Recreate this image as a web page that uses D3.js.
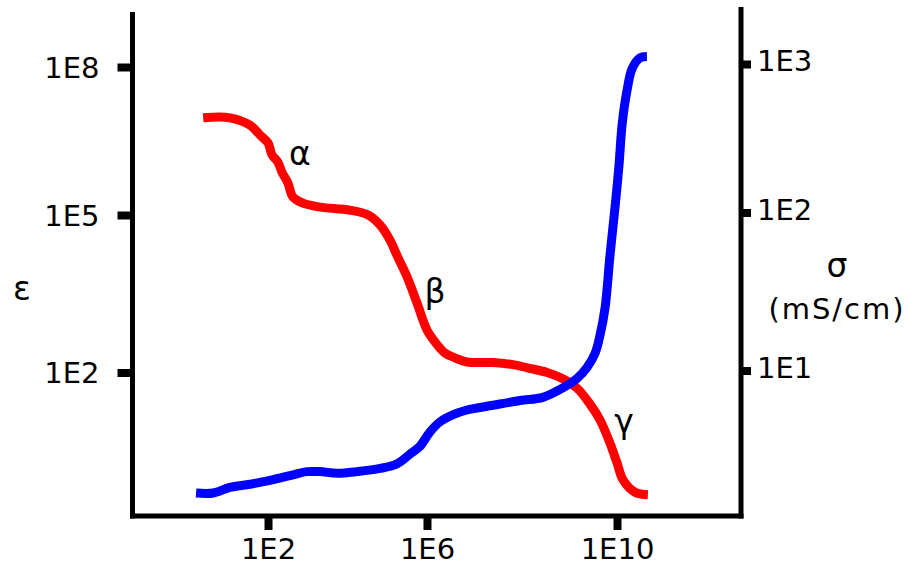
<!DOCTYPE html>
<html>
<head>
<meta charset="utf-8">
<script src="https://cdn.jsdelivr.net/npm/d3@7"></script>
<style>
  html, body { margin: 0; padding: 0; background: #fff; }
  svg { display: block; }
  text { font-family: "DejaVu Sans", Verdana, sans-serif; fill: #000; }
</style>
</head>
<body>
<svg id="chart" width="909" height="566"></svg>
<script>
// ---- Data (exponents of 10) ----
const freqTicks = [2, 6, 10];           // 1E2, 1E6, 1E10 (Hz)
const epsTicks = [8, 5, 2];             // 1E8, 1E5, 1E2
const sigmaTicks = [3, 2, 1];           // 1E3, 1E2, 1E1 (mS/cm)

// permittivity curve (red): log10 frequency, log10 epsilon
const epsFreq = [0.37, 1.04, 1.55, 1.80, 2.00, 2.10, 2.25, 2.35, 2.50, 2.63, 2.88, 3.31, 4.06, 4.52, 4.82, 5.07, 5.25, 5.50, 5.75, 6.00, 6.17, 6.38, 6.59, 6.84, 7.39, 7.81, 8.11, 8.53, 8.86, 9.16, 9.43, 9.64, 9.85, 10.00, 10.13, 10.38, 10.65];
const epsVal  = [6.97, 6.97, 6.82, 6.62, 6.46, 6.22, 6.07, 5.87, 5.65, 5.36, 5.24, 5.16, 5.10, 5.00, 4.81, 4.52, 4.22, 3.82, 3.32, 2.81, 2.58, 2.37, 2.28, 2.20, 2.19, 2.15, 2.09, 2.00, 1.88, 1.70, 1.40, 1.10, 0.66, 0.28, -0.05, -0.28, -0.33];

// conductivity curve (blue): log10 frequency, log10 sigma
const sigFreq = [0.19, 0.62, 1.04, 1.55, 2.13, 2.63, 2.98, 3.31, 3.74, 4.24, 4.82, 5.25, 5.57, 5.82, 6.06, 6.27, 6.59, 6.84, 7.39, 7.96, 8.44, 8.86, 9.16, 9.37, 9.54, 9.64, 9.75, 9.85, 9.96, 10.04, 10.11, 10.21, 10.32, 10.48, 10.63];
const sigVal  = [0.225, 0.225, 0.26, 0.28, 0.31, 0.34, 0.36, 0.36, 0.35, 0.36, 0.38, 0.41, 0.47, 0.52, 0.61, 0.674, 0.725, 0.75, 0.78, 0.81, 0.83, 0.89, 0.95, 1.02, 1.11, 1.22, 1.40, 1.72, 2.04, 2.31, 2.60, 2.82, 2.97, 3.04, 3.05];

// dispersion labels
const dispLabels = ["α", "β", "γ"];
const dispFreq = [2.80, 6.17, 10.15];
const dispEps  = [6.01, 3.32, 0.85];

// ---- Scales (hand-drawn, unevenly spaced decades) ----
const x = d3.scaleLinear().domain(freqTicks).range([268, 427, 617]);
const yL = d3.scaleLinear().domain(epsTicks).range([67, 215, 372.5]);
const yR = d3.scaleLinear().domain(sigmaTicks).range([64, 212.5, 370.5]);
const fmt = d => "1E" + d;

const svg = d3.select("#chart");

// axis lines
const axisG = svg.append("g").attr("stroke", "#000").attr("stroke-width", 5);
axisG.append("line").attr("x1", 132.5).attr("x2", 132.5).attr("y1", 12).attr("y2", 518.5);
axisG.append("line").attr("x1", 130).attr("x2", 743.5).attr("y1", 516).attr("y2", 516);
axisG.append("line").attr("x1", 741).attr("x2", 741).attr("y1", 7).attr("y2", 518.5);

// left axis ticks
const gl = svg.append("g").attr("transform", "translate(132.5,0)")
  .call(d3.axisLeft(yL).tickValues(epsTicks).tickFormat(fmt).tickSize(15).tickPadding(18));
gl.select(".domain").remove();
gl.selectAll(".tick line").attr("stroke", "#000").attr("stroke-width", 8);
gl.selectAll(".tick text").attr("font-size", 29).attr("dy", "0.36em")
  .attr("font-family", "DejaVu Sans, Verdana, sans-serif").attr("fill", "#000");

// right axis ticks
const gr = svg.append("g").attr("transform", "translate(741,0)")
  .call(d3.axisRight(yR).tickValues(sigmaTicks).tickFormat(fmt).tickSize(10).tickPadding(6));
gr.select(".domain").remove();
gr.selectAll(".tick line").attr("stroke", "#000").attr("stroke-width", 8);
gr.selectAll(".tick text").attr("font-size", 29).attr("dy", "0.24em")
  .attr("font-family", "DejaVu Sans, Verdana, sans-serif").attr("fill", "#000");

// bottom axis ticks
const gb = svg.append("g").attr("transform", "translate(0,516)")
  .call(d3.axisBottom(x).tickValues(freqTicks).tickFormat(fmt).tickSize(14).tickPadding(8));
gb.select(".domain").remove();
gb.selectAll(".tick line").attr("stroke", "#000").attr("stroke-width", 8);
gb.selectAll(".tick text").attr("font-size", 29).attr("dy", "0.71em")
  .attr("font-family", "DejaVu Sans, Verdana, sans-serif").attr("fill", "#000");

// curves
const epsData = epsFreq.map((f, i) => [f, epsVal[i]]);
const sigData = sigFreq.map((f, i) => [f, sigVal[i]]);

const lineEps = d3.line().x(d => x(d[0])).y(d => yL(d[1])).curve(d3.curveCatmullRom.alpha(0.5));
const lineSig = d3.line().x(d => x(d[0])).y(d => yR(d[1])).curve(d3.curveCatmullRom.alpha(0.5));

svg.append("path").datum(epsData).attr("d", lineEps)
  .attr("fill", "none").attr("stroke", "#ff0000").attr("stroke-width", 9)
  .attr("stroke-linejoin", "round").attr("stroke-linecap", "butt");
svg.append("path").datum(sigData).attr("d", lineSig)
  .attr("fill", "none").attr("stroke", "#0000ff").attr("stroke-width", 9)
  .attr("stroke-linejoin", "round").attr("stroke-linecap", "butt");

// dispersion labels
svg.selectAll("text.disp").data(dispLabels).enter().append("text")
  .attr("class", "disp")
  .attr("x", (d, i) => x(dispFreq[i]))
  .attr("y", (d, i) => yL(dispEps[i]))
  .attr("text-anchor", "middle").attr("font-size", 33)
  .text(d => d);

// axis titles
svg.append("text").attr("x", 22).attr("y", 300).attr("text-anchor", "middle")
  .attr("font-size", 33).text("ε");
svg.append("text").attr("x", 837).attr("y", 277).attr("text-anchor", "middle")
  .attr("font-size", 33).text("σ");
svg.append("text").attr("x", 837).attr("y", 319).attr("text-anchor", "middle")
  .attr("font-size", 29).attr("letter-spacing", "2px").text("(mS/cm)");
</script>
</body>
</html>
